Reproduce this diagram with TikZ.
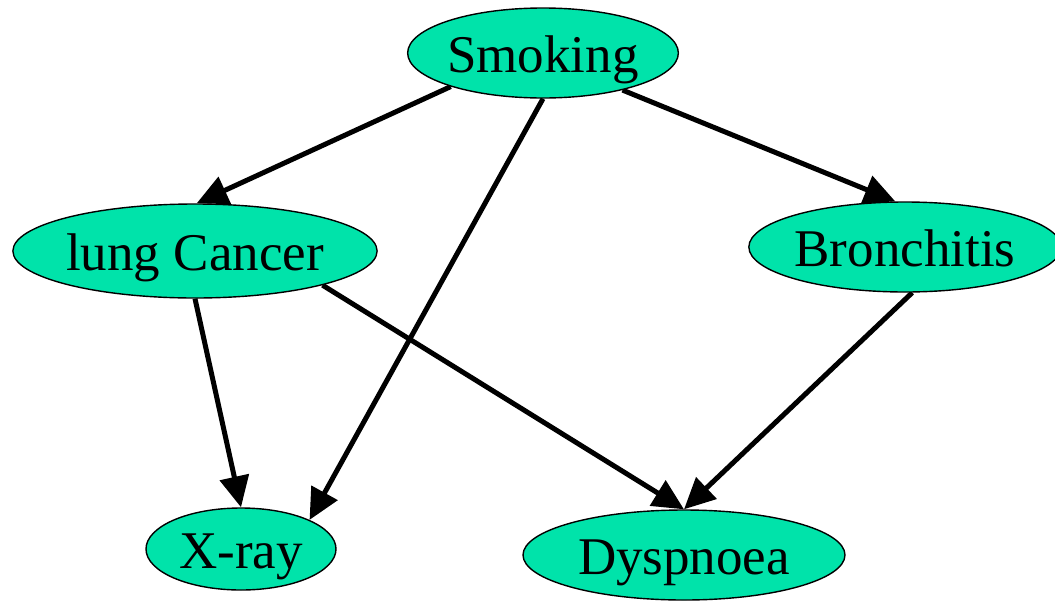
\documentclass[tikz,border=0pt]{standalone}
\usepackage{fontspec}
\setmainfont{Liberation Serif}
\usetikzlibrary{shapes.geometric,arrows.meta}
\pgfdeclarelayer{bg}
\pgfsetlayers{bg,main}
\definecolor{nodegreen}{RGB}{0,227,170}
\tikzset{
  bnode/.style={ellipse, draw=black, line width=1.4pt, fill=nodegreen, inner sep=0pt,
    font=\fontsize{53}{60}\selectfont, text height=38pt, text depth=0pt},
  edge/.style={line width=5pt, -{Triangle[length=31pt,width=29pt]}}
}
\begin{document}
\begin{tikzpicture}[x=1pt,y=-1pt]
\useasboundingbox (0,0) rectangle (1055,600);
\node[bnode, minimum width=264pt, minimum height=90pt] (s) at (543,53) {Smoking};
\node[bnode, minimum width=362pt, minimum height=94pt] (c) at (195,251) {lung Cancer};
\node[bnode, minimum width=306pt, minimum height=90pt] (b) at (905,247) {Bronchitis};
\node[bnode, minimum width=190pt, minimum height=82pt] (x) at (241,549) {X-ray};
\node[bnode, minimum width=322pt, minimum height=90pt] (d) at (684,555) {Dyspnoea};
\begin{pgfonlayer}{bg}
\draw[edge] (s.200) -- (c.88);
\draw[edge] (s.270) -- (x.23);
\draw[edge] (s.335) -- (b.102);
\draw[edge] (c.270) -- (x.90);
\draw[edge] (c.345) -- (d.90);
\draw[edge] (b.279) -- (d.90);
\end{pgfonlayer}
\end{tikzpicture}
\end{document}
